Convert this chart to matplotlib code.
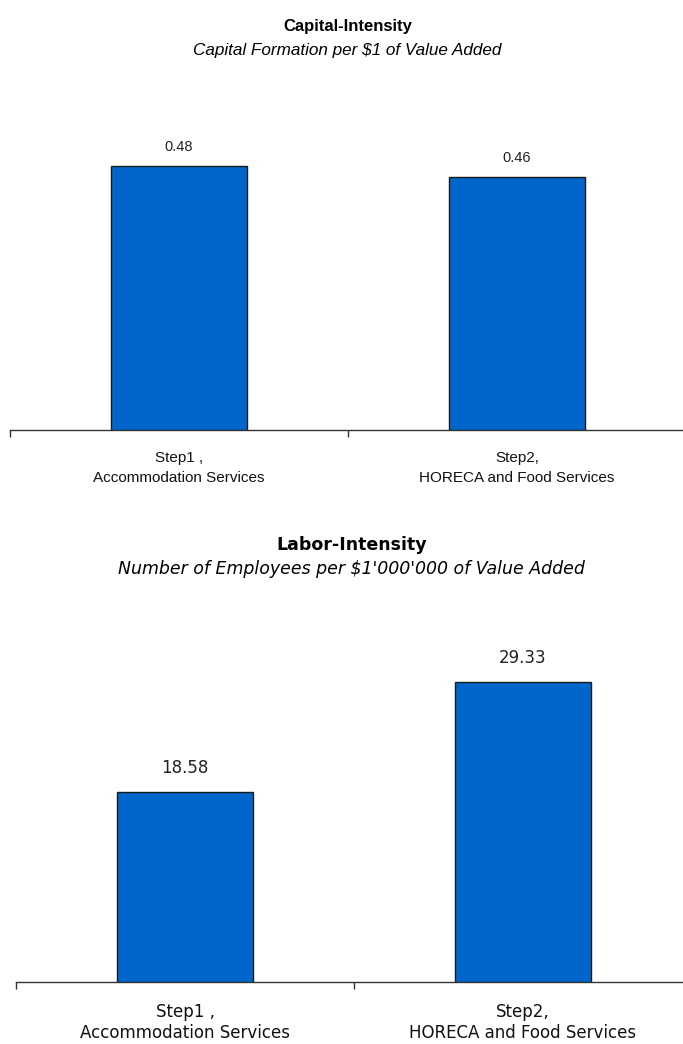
import matplotlib
matplotlib.use("Agg")
import matplotlib.pyplot as plt

# Data
categories = ["Step1 ,\nAccommodation Services", "Step2,\nHORECA and Food Services"]
capital_values = [0.48, 0.46]
capital_labels = ["0.48", "0.46"]
labor_values = [18.58, 29.33]
labor_labels = ["18.58", "29.33"]

W, H = 683, 1044
DPI = 100
fig = plt.figure(figsize=(W / DPI, H / DPI), dpi=DPI)
fig.patch.set_facecolor("white")

BAR_COLOR = "#0066CC"
ARIAL = ["Liberation Sans", "DejaVu Sans"]
WIDE = ["DejaVu Sans"]


def px_axes(left, right, top, bottom):
    """Axes positioned from pixel coordinates (origin at top-left)."""
    return fig.add_axes([left / W, 1 - bottom / H, (right - left) / W, (bottom - top) / H])


def draw_panel(ax, values, labels, ymax, family, label_size, value_size,
               bar_width, value_offset, pad, linespacing):
    x = list(range(len(values)))
    bars = ax.bar(x, values, width=bar_width, color=BAR_COLOR,
                  edgecolor="#1a1a1a", linewidth=1.0, zorder=3)
    for b, txt in zip(bars, labels):
        ax.annotate(txt, (b.get_x() + b.get_width() / 2, b.get_height()),
                    xytext=(0, value_offset), textcoords="offset pixels",
                    ha="center", va="center", fontsize=value_size,
                    family=family, color="#222222")
    ax.set_xlim(-0.5, len(values) - 0.5)
    ax.set_ylim(0, ymax)
    ax.set_yticks([])
    for s in ("left", "right", "top"):
        ax.spines[s].set_visible(False)
    ax.spines["bottom"].set_color("#333333")
    ax.spines["bottom"].set_linewidth(1.0)
    ax.set_xticks(x)
    ax.set_xticklabels(categories, fontsize=label_size, family=family,
                       color="#111111", linespacing=linespacing)
    ax.tick_params(axis="x", which="major", length=0, pad=pad)
    ax.set_xticks([i - 0.5 for i in range(len(values) + 1)], minor=True)
    ax.tick_params(axis="x", which="minor", length=5, width=1.0,
                   direction="out", color="#333333")
    ax.set_facecolor("none")


# Capital-intensity panel
ax1 = px_axes(10, 686, 100, 430)
draw_panel(ax1, capital_values, capital_labels, 0.6, ARIAL, 11, 10.5,
           0.405, 19, 15, 1.55)
fig.text(348 / W, 1 - 27 / H, "Capital-Intensity", ha="center", va="center",
         fontsize=12, fontweight="bold", family=ARIAL)
fig.text(347 / W, 1 - 51 / H, "Capital Formation per $1 of Value Added",
         ha="center", va="center", fontsize=12.3, style="italic", family=ARIAL)

# Labor-intensity panel
ax2 = px_axes(16, 692, 624, 982)
draw_panel(ax2, labor_values, labor_labels, 35, WIDE, 12, 12,
           0.40, 24, 15, 1.25)
fig.text(352 / W, 1 - 545 / H, "Labor-Intensity", ha="center", va="center",
         fontsize=12.5, fontweight="bold", family=WIDE)
fig.text(351 / W, 1 - 569 / H, "Number of Employees per $1'000'000 of Value Added",
         ha="center", va="center", fontsize=12.5, style="italic", family=WIDE)

fig.savefig("out.png", dpi=DPI, facecolor="white")
